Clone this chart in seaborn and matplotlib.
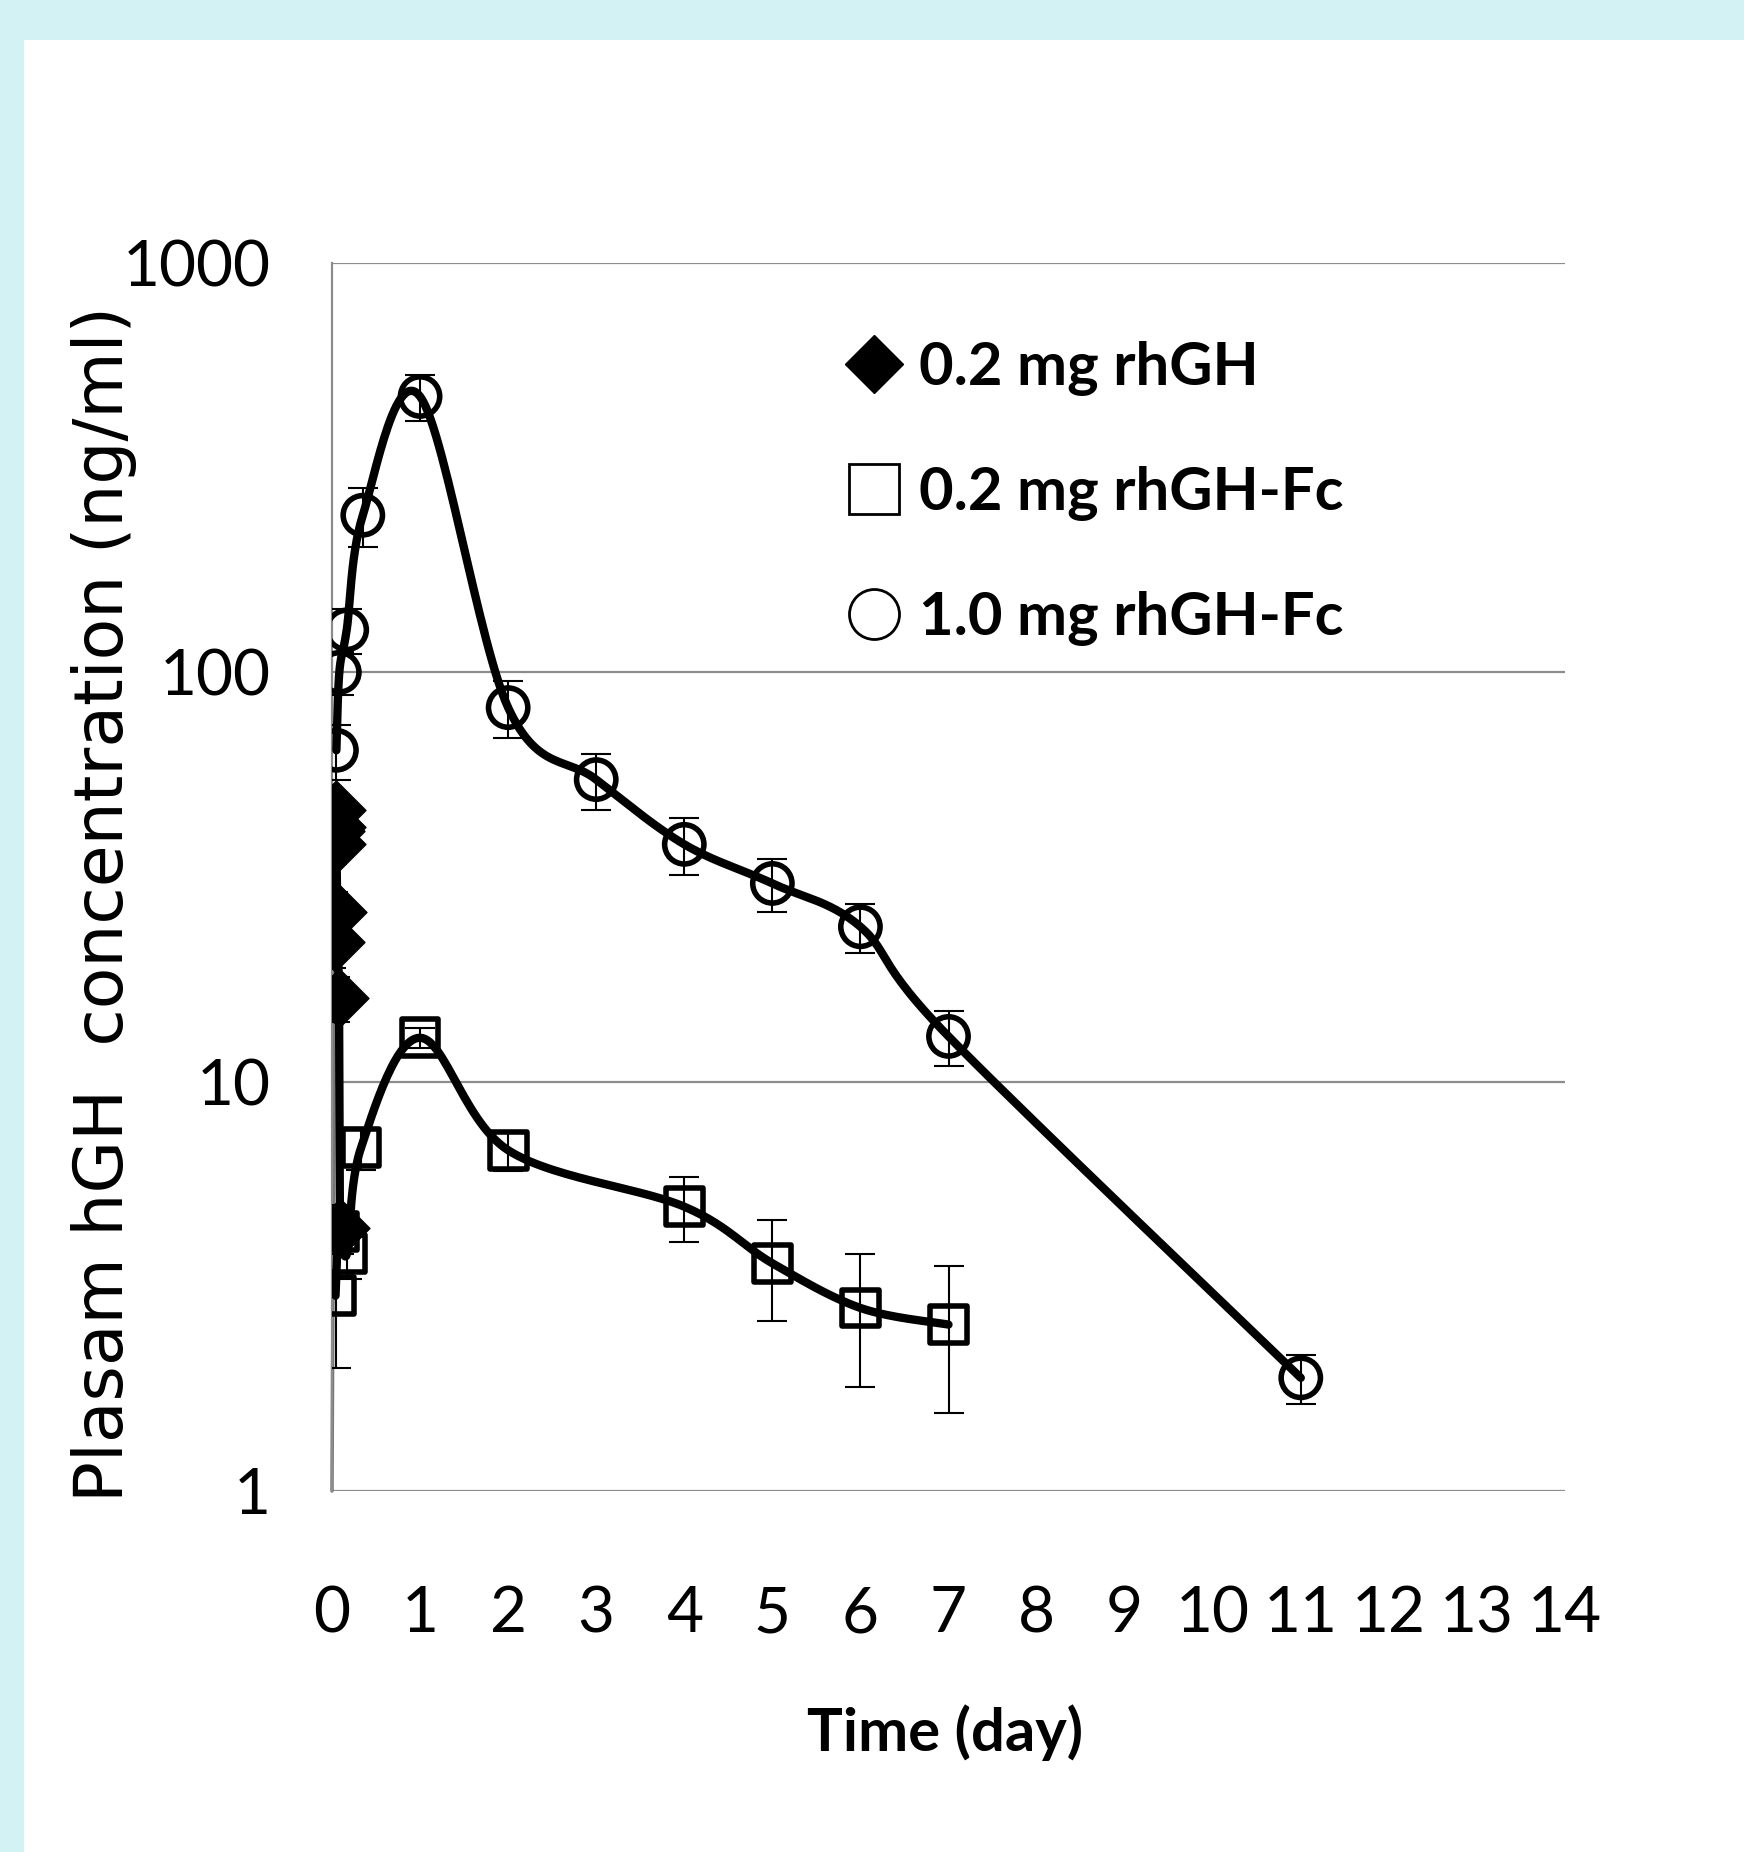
import numpy as np
import pandas as pd
import matplotlib
matplotlib.use("Agg")
import matplotlib.pyplot as plt
from matplotlib.patches import Rectangle
from matplotlib.lines import Line2D
import seaborn as sns

# ---------------- data ----------------
rhgh_t = [0.0, 0.03, 0.035, 0.04, 0.045, 0.05, 0.06, 0.08, 0.09]
rhgh_v = [1.0, 22, 41, 46, 42, 38, 26, 16, 4.4]
rhgh_e = [0.0, 3, 4, 5, 4, 4, 3, 2, 0.6]

fc02_t = [0.04, 0.08, 0.17, 0.33, 1, 2, 4, 5, 6, 7]
fc02_v = [3.0, 4.3, 3.8, 6.9, 12.8, 6.8, 4.95, 3.6, 2.8, 2.55]
fc02_e = [1.0, 0.5, 0.5, 0.8, 0.7, 0.75, 0.9, 1.0, 1.0, 1.0]

fc10_t = [0.05, 0.083, 0.167, 0.35, 1, 2, 3, 4, 5, 6, 7, 11]
fc10_v = [64.5, 100, 127, 242, 472, 82, 54.7, 38, 30.5, 23.9, 12.9, 1.89]
fc10_e = [10, 12, 16, 40, 60, 13, 8.5, 6, 4.5, 3.3, 2.0, 0.26]

labels = ["0.2 mg rhGH", "0.2 mg rhGH-Fc", "1.0 mg rhGH-Fc"]
x_ticks = list(range(0, 15))
y_ticks = [1, 10, 100, 1000]
y_ticklabels = ["1", "10", "100", "1000"]
x_label = "Time (day)"
y_label = "Plasam hGH  concentration (ng/ml)"

# ---------------- style ----------------
sns.set_theme(style="white")
plt.rcParams["font.family"] = ["Lato", "DejaVu Sans"]
plt.rcParams["text.color"] = "black"
plt.rcParams["axes.labelcolor"] = "black"

fig = plt.figure(figsize=(17.44, 18.52), dpi=100)
fig.patch.set_facecolor("#d3f2f4")
bg = Rectangle((24 / 1744, 0), 1 - 24 / 1744, 1 - 40 / 1852,
               transform=fig.transFigure, facecolor="white",
               edgecolor="none", zorder=-10)
fig.add_artist(bg)
ax = fig.add_axes([332 / 1744, 1 - 1491 / 1852, (1565 - 332) / 1744, (1491 - 263) / 1852])
ax.set_facecolor("none")
ax.set_zorder(1)

ax.set_yscale("log")
ax.set_xlim(0, 14)
ax.set_ylim(1, 1000)


def smooth(xs, ys, n=30):
    """Excel-like smoothed path (Bezier through points) in (x, log y) space."""
    px = np.asarray(xs, float)
    py = np.log10(np.asarray(ys, float))
    outx, outy = [px[0]], [py[0]]
    m = len(px)
    for i in range(m - 1):
        p0 = i - 1 if i > 0 else i
        p3 = i + 2 if i + 2 < m else i + 1
        c1x = px[i] + (px[i + 1] - px[p0]) / 6
        c1y = py[i] + (py[i + 1] - py[p0]) / 6
        c2x = px[i + 1] - (px[p3] - px[i]) / 6
        c2y = py[i + 1] - (py[p3] - py[i]) / 6
        s = np.linspace(0, 1, n)[1:]
        bx = (1 - s) ** 3 * px[i] + 3 * (1 - s) ** 2 * s * c1x + 3 * (1 - s) * s ** 2 * c2x + s ** 3 * px[i + 1]
        by = (1 - s) ** 3 * py[i] + 3 * (1 - s) ** 2 * s * c1y + 3 * (1 - s) * s ** 2 * c2y + s ** 3 * py[i + 1]
        outx.extend(bx)
        outy.extend(by)
    return np.array(outx), 10 ** np.array(outy)


LW = 6.0
CAP = 11
# gridlines
for yv in y_ticks:
    ax.axhline(yv, color="#8c8c8c", lw=1.6, zorder=1)

# rhGH series
ax.plot(rhgh_t[:2], rhgh_v[:2], color="#777777", lw=2.5, zorder=2, clip_on=False)
ax.plot(rhgh_t[1:], rhgh_v[1:], color="black", lw=LW, zorder=3)
ax.errorbar(rhgh_t[1:], rhgh_v[1:], yerr=rhgh_e[1:], fmt="none", ecolor="black",
            elinewidth=1.5, capsize=8, capthick=1.5, zorder=3)
df_r = pd.DataFrame({"t": rhgh_t[1:], "v": rhgh_v[1:]})
sns.scatterplot(data=df_r, x="t", y="v", ax=ax, marker="D", s=900, color="black",
                edgecolor="black", linewidth=1, zorder=4, legend=False)

# rhGH-Fc 0.2
sx, sy = smooth(fc02_t, fc02_v)
ax.plot(sx, sy, color="black", lw=LW, zorder=3)
ax.errorbar(fc02_t, fc02_v, yerr=fc02_e, fmt="none", ecolor="black",
            elinewidth=1.5, capsize=CAP, capthick=1.5, zorder=3)
df_s = pd.DataFrame({"t": fc02_t, "v": fc02_v})
sns.scatterplot(data=df_s, x="t", y="v", ax=ax, marker="s", s=700, facecolor="none",
                edgecolor="black", linewidth=4, zorder=4, legend=False)

# rhGH-Fc 1.0
cx, cy = smooth(fc10_t, fc10_v)
ax.plot(cx, cy, color="black", lw=LW, zorder=3)
ax.errorbar(fc10_t, fc10_v, yerr=fc10_e, fmt="none", ecolor="black",
            elinewidth=1.5, capsize=CAP, capthick=1.5, zorder=3)
df_c = pd.DataFrame({"t": fc10_t, "v": fc10_v})
sns.scatterplot(data=df_c, x="t", y="v", ax=ax, marker="o", s=800, facecolor="none",
                edgecolor="black", linewidth=4, zorder=4, legend=False)

# axes styling
for side in ["top", "right", "bottom"]:
    ax.spines[side].set_visible(False)
ax.spines["left"].set_color("#8c8c8c")
ax.spines["left"].set_linewidth(1.6)
ax.set_xticks(x_ticks)
ax.set_xticklabels([str(v) for v in x_ticks])
ax.set_yticks(y_ticks)
ax.set_yticklabels(y_ticklabels)
ax.yaxis.set_minor_locator(matplotlib.ticker.NullLocator())
ax.tick_params(axis="x", length=0, pad=68, labelsize=46, colors="black")
ax.tick_params(axis="y", length=0, pad=44, labelsize=46, colors="black")
ax.set_xlabel(x_label, fontsize=43, fontweight="bold", va="center", color="black")
ax.xaxis.set_label_coords((945 - 332) / 1233, -(1733 - 1491) / 1228)
ax.set_ylabel(y_label, fontsize=49, family=["DejaVu Sans"], va="center", color="black")
ax.yaxis.set_label_coords((104 - 332) / 1233, 0.478)

# legend
handles = [
    Line2D([], [], marker="D", linestyle="none", markersize=30, markerfacecolor="black",
           markeredgecolor="black"),
    Line2D([], [], marker="s", linestyle="none", markersize=36, markerfacecolor="white",
           markeredgecolor="black", markeredgewidth=2),
    Line2D([], [], marker="o", linestyle="none", markersize=36, markerfacecolor="white",
           markeredgecolor="black", markeredgewidth=2),
]
leg = ax.legend(handles, labels, loc="upper left", bbox_to_anchor=(0.396, 0.961),
                frameon=False, prop={"family": "Lato", "weight": "bold", "size": 43},
                handlelength=0.8, handletextpad=0.36, labelspacing=1.17, borderpad=0,
                labelcolor="black")

fig.savefig("out.png", dpi=100, facecolor=fig.get_facecolor())
